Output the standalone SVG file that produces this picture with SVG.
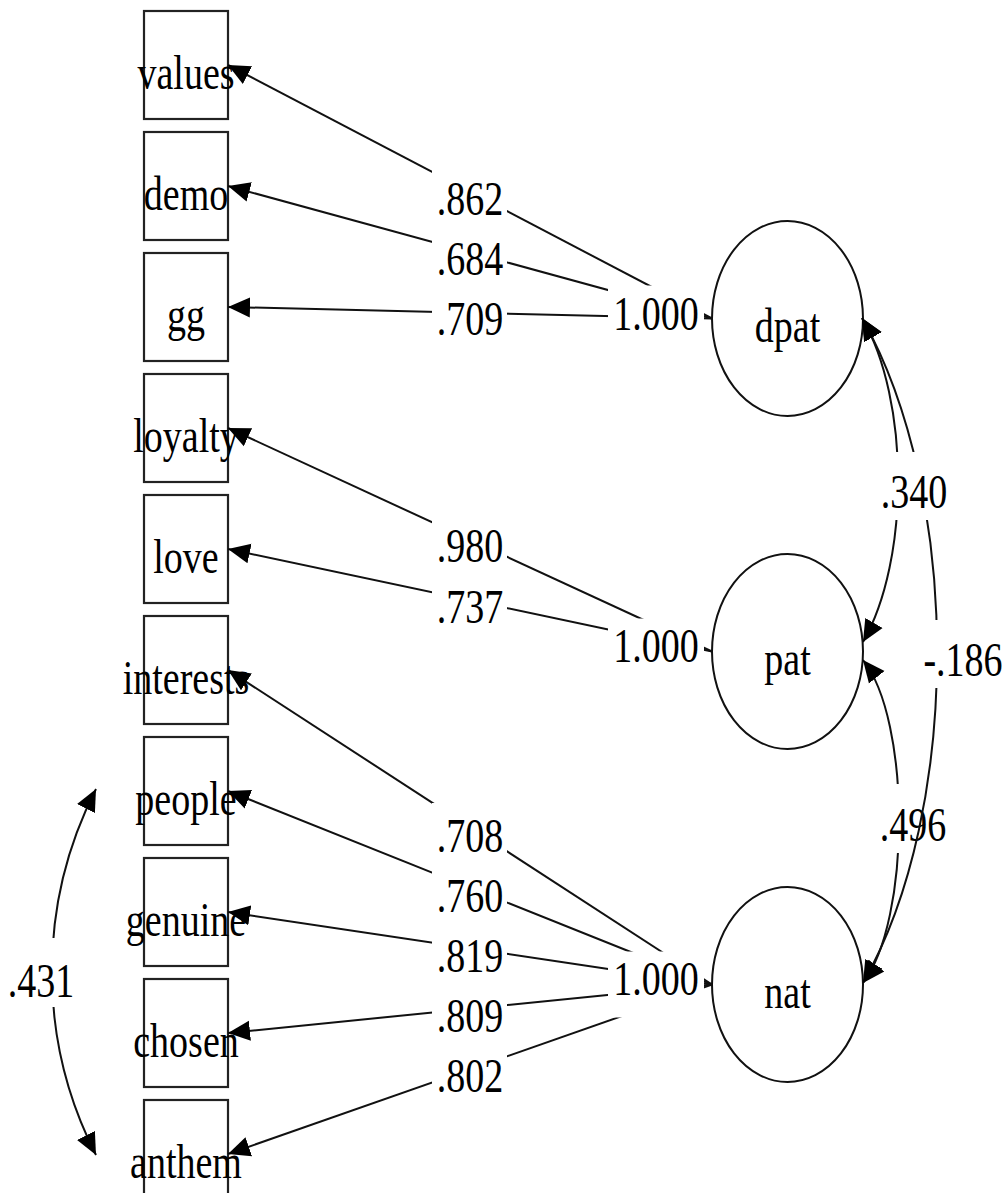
<svg xmlns="http://www.w3.org/2000/svg" width="1005" height="1193" viewBox="0 0 1005 1193">
<style>
  .box { fill: #fff; stroke: #222; stroke-width: 2.2; }
  .lat { fill: #fff; stroke: #111; stroke-width: 2; }
  .t { font-family: "Liberation Serif", "Times New Roman", serif; font-size: 38px; fill: #000; text-anchor: middle; }
  .e { fill: none; stroke: #111; stroke-width: 2; }
  .bg { fill: #fff; stroke: none; }
</style>
<defs>
  <marker id="ah" viewBox="0 -11 22 22" markerUnits="userSpaceOnUse" markerWidth="22" markerHeight="22" refX="22" refY="0" orient="auto-start-reverse">
    <path d="M0,-10 L22,0 L0,10 Z" fill="#000"/>
  </marker>
</defs>
<rect width="1005" height="1193" fill="#fff"/>

<g id="values"><rect class="box" x="144" y="11" width="84" height="108"/><text class="t" transform="translate(186,89) scale(1,1.3)">values</text></g>
<g id="demo"><rect class="box" x="144" y="132" width="84" height="108"/><text class="t" transform="translate(186,210) scale(1,1.3)">demo</text></g>
<g id="gg"><rect class="box" x="144" y="253" width="84" height="108"/><text class="t" transform="translate(186,331) scale(1,1.3)">gg</text></g>
<g id="loyalty"><rect class="box" x="144" y="374" width="84" height="108"/><text class="t" transform="translate(186,452) scale(1,1.3)">loyalty</text></g>
<g id="love"><rect class="box" x="144" y="495" width="84" height="108"/><text class="t" transform="translate(186,573) scale(1,1.3)">love</text></g>
<g id="interests"><rect class="box" x="144" y="616" width="84" height="108"/><text class="t" transform="translate(186,694) scale(1,1.3)">interests</text></g>
<g id="people"><rect class="box" x="144" y="737" width="84" height="108"/><text class="t" transform="translate(186,815) scale(1,1.3)">people</text></g>
<g id="genuine"><rect class="box" x="144" y="858" width="84" height="108"/><text class="t" transform="translate(186,936) scale(1,1.3)">genuine</text></g>
<g id="chosen"><rect class="box" x="144" y="979" width="84" height="108"/><text class="t" transform="translate(186,1057) scale(1,1.3)">chosen</text></g>
<g id="anthem"><rect class="box" x="144" y="1100" width="84" height="108"/><text class="t" transform="translate(186,1178) scale(1,1.3)">anthem</text></g>

<g id="dpat"><ellipse class="lat" cx="787.5" cy="318.5" rx="75.5" ry="97.5"/><text class="t" transform="translate(787.5,342) scale(1,1.3)">dpat</text></g>
<g id="pat"><ellipse class="lat" cx="787.5" cy="651.5" rx="75.5" ry="97.5"/><text class="t" transform="translate(787.5,675) scale(1,1.3)">pat</text></g>
<g id="nat"><ellipse class="lat" cx="787.5" cy="984.5" rx="75.5" ry="97.5"/><text class="t" transform="translate(787.5,1008) scale(1,1.3)">nat</text></g>

<g id="connectors">
  <g id="loadings">
    <path class="e" marker-end="url(#ah)" d="M712,318.5 L228,65"/>
    <path class="e" marker-end="url(#ah)" d="M712,318.5 L228,186"/>
    <path class="e" marker-end="url(#ah)" d="M712,318.5 L228,307"/>
    <path class="e" marker-end="url(#ah)" d="M712,651.5 L228,428"/>
    <path class="e" marker-end="url(#ah)" d="M712,651.5 L228,549"/>
    <path class="e" marker-end="url(#ah)" d="M712,984.5 L228,670"/>
    <path class="e" marker-end="url(#ah)" d="M712,984.5 L228,791"/>
    <path class="e" marker-end="url(#ah)" d="M712,984.5 L228,912"/>
    <path class="e" marker-end="url(#ah)" d="M712,984.5 L228,1033"/>
    <path class="e" marker-end="url(#ah)" d="M712,984.5 L228,1154"/>
  </g>
  <g id="loading-labels">
    <rect class="bg" x="432" y="166" width="75" height="60"/><text class="t" transform="translate(470,215) scale(1,1.3)">.862</text>
    <rect class="bg" x="432" y="226" width="75" height="60"/><text class="t" transform="translate(470,275) scale(1,1.3)">.684</text>
    <rect class="bg" x="432" y="286" width="75" height="60"/><text class="t" transform="translate(470,335) scale(1,1.3)">.709</text>
    <rect class="bg" x="432" y="513" width="75" height="60"/><text class="t" transform="translate(470,562) scale(1,1.3)">.980</text>
    <rect class="bg" x="432" y="574" width="75" height="60"/><text class="t" transform="translate(470,623) scale(1,1.3)">.737</text>
    <rect class="bg" x="432" y="803" width="75" height="60"/><text class="t" transform="translate(470,852) scale(1,1.3)">.708</text>
    <rect class="bg" x="432" y="863" width="75" height="60"/><text class="t" transform="translate(470,912) scale(1,1.3)">.760</text>
    <rect class="bg" x="432" y="923" width="75" height="60"/><text class="t" transform="translate(470,972) scale(1,1.3)">.819</text>
    <rect class="bg" x="432" y="983" width="75" height="60"/><text class="t" transform="translate(470,1032) scale(1,1.3)">.809</text>
    <rect class="bg" x="432" y="1043" width="75" height="60"/><text class="t" transform="translate(470,1092) scale(1,1.3)">.802</text>
    <rect class="bg" x="608" y="285.5" width="96" height="66"/><text class="t" transform="translate(656,330) scale(1,1.3)">1.000</text>
    <rect class="bg" x="608" y="618.5" width="96" height="66"/><text class="t" transform="translate(656,662) scale(1,1.3)">1.000</text>
    <rect class="bg" x="608" y="951.5" width="96" height="66"/><text class="t" transform="translate(656,995) scale(1,1.3)">1.000</text>
  </g>
  <g id="covariances">
    <path class="e" marker-start="url(#ah)" marker-end="url(#ah)" d="M863,660 C911,720 911,920 863,983"/>
    <rect class="bg" x="878" y="784" width="68" height="69"/><text class="t" transform="translate(913,841) scale(1,1.3)">.496</text>
    <path class="e" marker-start="url(#ah)" marker-end="url(#ah)" d="M862,318 C910,400 910,560 863,642"/>
    <path class="e" marker-start="url(#ah)" marker-end="url(#ah)" d="M862,318 C962,495 962,810 863,983"/>
    <rect class="bg" x="876" y="452" width="76" height="68"/><text class="t" transform="translate(914,508) scale(1,1.3)">.340</text>
    <rect class="bg" x="918" y="620" width="87" height="68"/><text class="t" transform="translate(963,676) scale(1,1.3)">-.186</text>
    <path class="e" marker-start="url(#ah)" marker-end="url(#ah)" d="M96,789 A402,402 0 0 0 96,1155"/>
    <rect class="bg" x="5" y="938" width="73" height="69"/><text class="t" transform="translate(41,997) scale(1,1.3)">.431</text>
  </g>
</g>
</svg>
